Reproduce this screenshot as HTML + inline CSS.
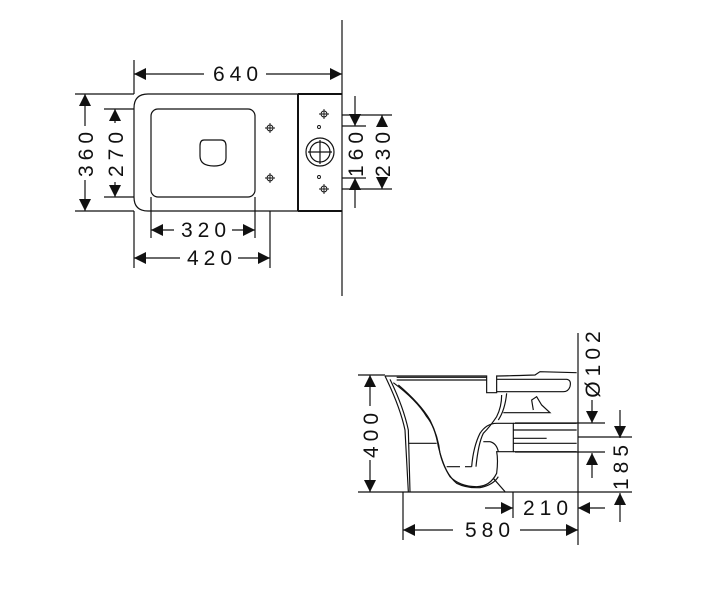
<!DOCTYPE html>
<html><head><style>
html,body{margin:0;padding:0;background:#fff;}
svg{display:block;}
text{font-family:"Liberation Sans",sans-serif;font-size:21px;fill:#111;letter-spacing:5px;}
</style></head><body>
<svg width="715" height="600" viewBox="0 0 715 600" xmlns="http://www.w3.org/2000/svg">
<defs>
<marker id="a" viewBox="0 0 10 10" refX="10" refY="5" markerWidth="14" markerHeight="12" markerUnits="userSpaceOnUse" orient="auto-start-reverse"><path d="M0,0L10,5L0,10z" fill="#111"/></marker>
</defs>
<g stroke="#111" stroke-width="1.2" fill="none">
<!-- TOP VIEW -->
<line x1="342" y1="20" x2="342" y2="296"/>
<path d="M148,94 H342 M148,211 H342 M148,94 Q134,94 134,108 V197 Q134,211 148,211"/>
<line x1="298" y1="94" x2="298" y2="211" stroke-width="2"/>
<line x1="298" y1="94" x2="342" y2="94" stroke-width="2"/>
<line x1="298" y1="211" x2="342" y2="211" stroke-width="2"/>
<rect x="151" y="109" width="104" height="88" rx="7"/>
<path d="M204,140 H221 Q226,140 226,146 V158 Q226,166 214,166 Q200,166 200,156 V146 Q200,140 204,140 Z"/>
<circle cx="320" cy="152" r="14"/><circle cx="320" cy="152" r="10"/>
<path d="M308,152H332M320,140V164"/>
<g stroke-width="0.9">
<circle cx="270" cy="128" r="3"/><path d="M265,128h10M270,123v10"/>
<circle cx="270" cy="178" r="3"/><path d="M265,178h10M270,173v10"/>
<circle cx="324" cy="114" r="3"/><path d="M319,114h10M324,109v10"/>
<circle cx="324" cy="189" r="3"/><path d="M319,189h10M324,184v10"/>
<circle cx="319" cy="127" r="1.5"/><circle cx="319" cy="177" r="1.5"/>
</g>
<!-- dims top -->
<line x1="134" y1="60" x2="134" y2="94"/>
<line x1="134" y1="74" x2="204" y2="74" marker-start="url(#a)"/>
<line x1="266" y1="74" x2="342" y2="74" marker-end="url(#a)"/>
<line x1="75" y1="94" x2="134" y2="94"/><line x1="75" y1="211" x2="134" y2="211"/>
<line x1="85" y1="94" x2="85" y2="126" marker-start="url(#a)"/>
<line x1="85" y1="180" x2="85" y2="211" marker-end="url(#a)"/>
<line x1="104" y1="109" x2="134" y2="109"/><line x1="104" y1="197" x2="134" y2="197"/>
<line x1="115" y1="109" x2="115" y2="123" marker-start="url(#a)"/>
<line x1="115" y1="182" x2="115" y2="197" marker-end="url(#a)"/>
<line x1="151" y1="197" x2="151" y2="238"/><line x1="255" y1="197" x2="255" y2="238"/>
<line x1="270" y1="211" x2="270" y2="268"/>
<line x1="134" y1="211" x2="134" y2="268"/>
<line x1="151" y1="230" x2="174" y2="230" marker-start="url(#a)"/>
<line x1="232" y1="230" x2="255" y2="230" marker-end="url(#a)"/>
<line x1="134" y1="258" x2="180" y2="258" marker-start="url(#a)"/>
<line x1="238" y1="258" x2="270" y2="258" marker-end="url(#a)"/>
<line x1="342" y1="115" x2="392" y2="115"/><line x1="342" y1="189" x2="392" y2="189"/>
<line x1="342" y1="126" x2="366" y2="126"/><line x1="342" y1="178" x2="366" y2="178"/>
<line x1="355" y1="96" x2="355" y2="126" marker-end="url(#a)"/>
<line x1="355" y1="208" x2="355" y2="178" marker-end="url(#a)"/>
<line x1="382" y1="115" x2="382" y2="124" marker-start="url(#a)"/>
<line x1="382" y1="182" x2="382" y2="189" marker-end="url(#a)"/>

<!-- SIDE VIEW -->
<line x1="578" y1="333" x2="578" y2="545"/>
<line x1="358" y1="492" x2="632" y2="492"/>
<line x1="358" y1="375" x2="385" y2="375"/>
<line x1="370" y1="375" x2="370" y2="406" marker-start="url(#a)"/>
<line x1="370" y1="460" x2="370" y2="492" marker-end="url(#a)"/>
<g transform="translate(350,320) scale(0.3333)" stroke-width="3.5">
<path d="M105,168 Q150,260 165,330 L175,515"/>
<path d="M120,178 Q160,260 175,330 L180,515"/>
<path d="M105,168 H410 V218 H440 V168 Q460,168 555,165 L570,155 L680,158"/>
<path d="M140,180 H410 M140,172 H410"/>
<path d="M440,178 H650 Q665,180 660,200 Q655,215 640,215 H440"/>
<path d="M130,188 Q200,240 230,290 Q255,320 265,380 Q280,440 300,470 Q330,500 380,500 Q420,500 440,460 Q445,420 440,395 H490 V310 H440 Q410,310 390,340 Q370,380 365,440"/>
<path d="M145,195 Q210,250 240,300 Q265,350 270,400 Q285,460 320,490 Q350,505 390,503 Q430,495 445,470"/>
<path d="M455,225 Q455,260 440,290 Q420,320 400,340 Q385,370 378,440"/>
<path d="M470,220 Q465,270 445,300"/>
<path d="M175,370 H260"/><path d="M290,440 H330 M345,440 H365"/>
<path d="M400,365 H420 Q440,370 445,395"/>
<path d="M430,475 L465,515"/>
<path d="M460,278 H600 L575,255 L560,230 L545,240 L550,270"/>
<path d="M490,310 H680 M490,395 H680 M490,355 H590 M490,330 H680 M490,370 H680"/>
</g>
<line x1="515" y1="423" x2="605" y2="423"/>
<line x1="515" y1="452" x2="605" y2="452"/>
<line x1="578" y1="437" x2="632" y2="437"/>
<line x1="592" y1="400" x2="592" y2="423" marker-end="url(#a)"/>
<line x1="592" y1="478" x2="592" y2="453" marker-end="url(#a)"/>
<line x1="620" y1="410" x2="620" y2="438" marker-end="url(#a)"/>
<line x1="620" y1="522" x2="620" y2="493" marker-end="url(#a)"/>
<line x1="403" y1="492" x2="403" y2="540"/>
<line x1="513" y1="492" x2="513" y2="518"/>
<line x1="485" y1="508" x2="513" y2="508" marker-end="url(#a)"/>
<line x1="605" y1="508" x2="578" y2="508" marker-end="url(#a)"/>
<line x1="403" y1="530" x2="453" y2="530" marker-start="url(#a)"/>
<line x1="520" y1="530" x2="578" y2="530" marker-end="url(#a)"/>
</g>
<!-- labels -->
<text x="238" y="81" text-anchor="middle">640</text>
<text x="206" y="237" text-anchor="middle">320</text>
<text x="212" y="265" text-anchor="middle">420</text>
<text transform="translate(93,152) rotate(-90)" text-anchor="middle">360</text>
<text transform="translate(123,152) rotate(-90)" text-anchor="middle">270</text>
<text transform="translate(363,152) rotate(-90)" text-anchor="middle">160</text>
<text transform="translate(390,152) rotate(-90)" text-anchor="middle">230</text>
<text transform="translate(378,433) rotate(-90)" text-anchor="middle">400</text>
<text transform="translate(600,362) rotate(-90)" text-anchor="middle">Ø102</text>
<text transform="translate(628,465) rotate(-90)" text-anchor="middle">185</text>
<text x="548" y="515" text-anchor="middle">210</text>
<text x="490" y="537" text-anchor="middle">580</text>
</svg>
</body></html>
